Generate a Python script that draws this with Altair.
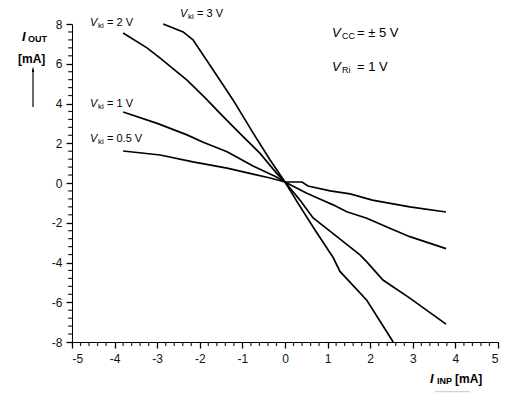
import altair as alt
import pandas as pd
import numpy as np

FONT = "Liberation Sans"

# ---- data ----
vki05_x = [-3.80, -2.93, -2.16, -1.36, -0.75, -0.35, 0.0, 0.40, 0.54, 1.06, 1.53, 2.05, 2.93, 3.78]
vki05_y = [1.61, 1.41, 1.06, 0.75, 0.45, 0.25, 0.05, 0.05, -0.15, -0.40, -0.55, -0.86, -1.20, -1.46]

vki1_x = [-3.80, -3.00, -2.30, -1.92, -1.36, -0.75, -0.20, 0.0, 0.50, 0.87, 1.13, 1.45, 1.92, 2.46, 2.93, 3.78]
vki1_y = [3.57, 3.00, 2.42, 2.05, 1.57, 0.86, 0.30, 0.05, -0.50, -0.86, -1.10, -1.45, -1.77, -2.28, -2.70, -3.30]

vki2_x = [-3.80, -3.24, -2.93, -2.30, -1.88, -1.53, -1.06, -0.59, -0.20, 0.0, 0.35, 0.66, 1.13, 1.76, 1.92, 2.30, 2.93, 3.78]
vki2_y = [7.55, 6.80, 6.28, 5.18, 4.30, 3.52, 2.50, 1.50, 0.50, 0.05, -0.86, -1.76, -2.55, -3.62, -3.97, -4.88, -5.79, -7.10]

vki3_x = [-2.86, -2.39, -2.16, -1.53, -1.22, -0.75, -0.35, 0.0, 0.30, 0.70, 1.13, 1.29, 1.92, 2.54]
vki3_y = [8.00, 7.60, 7.20, 5.18, 4.18, 2.52, 1.16, 0.05, -1.00, -2.35, -3.75, -4.45, -5.90, -8.00]

x_major = [-5, -4, -3, -2, -1, 0, 1, 2, 3, 4, 5]
y_major = [-8, -6, -4, -2, 0, 2, 4, 6, 8]
x_minor = [round(float(v), 1) for v in np.arange(-5, 5.01, 0.2) if abs(v - round(v)) > 0.01]
y_minor = [round(float(v), 1) for v in np.arange(-8, 8.01, 0.4) if abs(v / 2 - round(v / 2)) > 0.01]

# annotation labels: main letter, subscript, rest
ann_x = [-4.577, -2.465, -4.577, -4.577]
ann_y = [8.05, 8.50, 3.97, 2.21]
ann_rest = ["= 2 V", "= 3 V", "= 1 V", "= 0.5 V"]

frames = []
for name, xs_, ys_ in [("0.5", vki05_x, vki05_y), ("1", vki1_x, vki1_y),
                       ("2", vki2_x, vki2_y), ("3", vki3_x, vki3_y)]:
    frames.append(pd.DataFrame({"x": xs_, "y": ys_, "s": name}))
df = pd.concat(frames, ignore_index=True)

xs = alt.Scale(domain=[-5, 5], nice=False, zero=False)
ys = alt.Scale(domain=[-8, 8], nice=False, zero=False)

axis_common = dict(grid=False, domainColor="black", tickColor="black", labelColor="#111111",
                   labelFont=FONT, labelFontSize=12, title=None, domainWidth=1, tickWidth=1.3,
                   ticks=True, tickSize=6, labelExpr="replace(datum.label, '\u2212', '-')")

x_axis = alt.Axis(values=x_major, orient="bottom", labelPadding=5, **axis_common)
y_axis = alt.Axis(values=y_major, orient="left", labelPadding=4, **axis_common)


def X(field="x"):
    return alt.X(f"{field}:Q", scale=xs, axis=x_axis)


def Y(field="y"):
    return alt.Y(f"{field}:Q", scale=ys, axis=y_axis)


lines = alt.Chart(df).mark_line(color="black", strokeWidth=1.7).encode(
    x=X(), y=Y(), detail="s:N",
)

# minor ticks drawn as short rules just outside the axes
mx_df = pd.DataFrame({"tx": x_minor, "ty": [-8.0] * len(x_minor), "ty2": [-8.2] * len(x_minor)})
my_df = pd.DataFrame({"ty": y_minor, "tx": [-5.0] * len(y_minor), "tx2": [-5.09] * len(y_minor)})
minor_x = alt.Chart(mx_df).mark_rule(color="#222222", strokeWidth=1.2).encode(
    x=X("tx"), y=Y("ty"), y2="ty2:Q")
minor_y = alt.Chart(my_df).mark_rule(color="#222222", strokeWidth=1.2).encode(
    y=Y("ty"), x=X("tx"), x2="tx2:Q")

ann_df = pd.DataFrame({"x": ann_x, "y": ann_y, "rest": ann_rest})
ann_base = alt.Chart(ann_df).encode(x=X(), y=Y())
ann_v = ann_base.mark_text(text="V", align="left", baseline="middle", font=FONT, fontSize=11,
                           fontStyle="italic", color="black")
ann_sub = ann_base.mark_text(text="ki", align="left", baseline="middle", font=FONT, fontSize=8,
                             color="black", dx=8, dy=3)
ann_rest_t = ann_base.mark_text(align="left", baseline="middle", font=FONT, fontSize=11,
                                color="black", dx=17).encode(text="rest:N")

# V_CC and V_Ri
cond_df = pd.DataFrame({"x": [1.103, 1.103], "y": [7.55, 5.84], "sub": ["CC", "Ri"],
                        "rest": ["= \u00b1 5 V", "= 1 V"]})
cond_base = alt.Chart(cond_df).encode(x=X(), y=Y())
cond_v = cond_base.mark_text(text="V", align="left", baseline="middle", font=FONT, fontSize=13,
                             fontStyle="italic", color="black")
cond_sub = cond_base.mark_text(align="left", baseline="middle", font=FONT, fontSize=9,
                               color="black", dx=10, dy=3).encode(text="sub:N")
cond_rest = cond_base.mark_text(align="left", baseline="middle", font=FONT, fontSize=13,
                                color="black", dx=25).encode(text="rest:N")

# axis titles
yt_df = pd.DataFrame({"x": [-6.174], "y": [7.35]})
yt_I = alt.Chart(yt_df).mark_text(text="I", align="left", baseline="middle", font=FONT, fontSize=13,
                                  fontStyle="italic", fontWeight="bold", color="black").encode(x=X(), y=Y())
yt_sub = alt.Chart(yt_df).mark_text(text="OUT", align="left", baseline="middle", font=FONT, fontSize=9,
                                    fontWeight="bold", color="black", dx=6, dy=2).encode(x=X(), y=Y())
yt2_df = pd.DataFrame({"x": [-6.268], "y": [6.24]})
yt_mA = alt.Chart(yt2_df).mark_text(text="[mA]", align="left", baseline="middle", font=FONT,
                                    fontSize=12, fontWeight="bold", color="black").encode(x=X(), y=Y())

xt_df = pd.DataFrame({"x": [3.404], "y": [-9.86]})
xt_I = alt.Chart(xt_df).mark_text(text="I", align="left", baseline="middle", font=FONT, fontSize=13,
                                  fontStyle="italic", fontWeight="bold", color="black").encode(x=X(), y=Y())
xt_sub = alt.Chart(xt_df).mark_text(text="INP", align="left", baseline="middle", font=FONT, fontSize=9,
                                    fontWeight="bold", color="black", dx=7, dy=2).encode(x=X(), y=Y())
xt_mA = alt.Chart(xt_df).mark_text(text="[mA]", align="left", baseline="middle", font=FONT,
                                   fontSize=12, fontWeight="bold", color="black", dx=25).encode(x=X(), y=Y())

# arrow next to y title
arr_df = pd.DataFrame({"x": [-5.915], "y": [5.72], "y2": [3.82]})
arrow_line = alt.Chart(arr_df).mark_rule(color="black", strokeWidth=1.2).encode(
    x=X(), y=Y(), y2="y2:Q")
arrow_head = alt.Chart(arr_df).mark_point(shape="M0,-1L0.45,1L-0.45,1Z", filled=True, color="black",
                                          size=30, opacity=1).encode(x=X(), y=Y())

# faint remnant line at bottom right
rem_df = pd.DataFrame({"x": [3.52], "x2": [4.34], "y": [-10.5]})
remnant = alt.Chart(rem_df).mark_rule(color="#c8c8c8", strokeWidth=1).encode(
    x=X(), x2="x2:Q", y=Y())

chart = alt.layer(
    lines, minor_x, minor_y,
    ann_v, ann_sub, ann_rest_t,
    cond_v, cond_sub, cond_rest,
    yt_I, yt_sub, yt_mA, xt_I, xt_sub, xt_mA,
    arrow_line, arrow_head, remnant,
).properties(
    width=426, height=318,
    autosize=alt.AutoSizeParams(type="none"),
    padding={"left": 72, "top": 24, "right": 8, "bottom": 52},
).configure_view(stroke=None).configure_axis(grid=False)

chart.save("out.html", embed_options={"renderer": "svg", "actions": False})
